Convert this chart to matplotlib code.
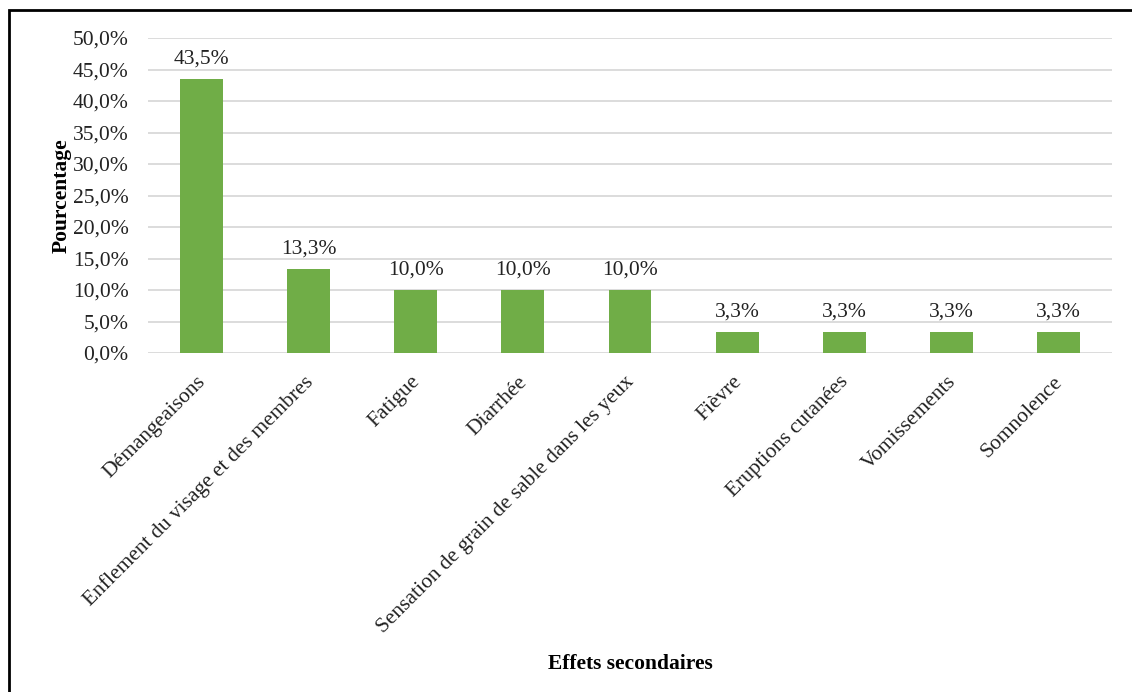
import matplotlib
matplotlib.use("Agg")
import matplotlib.pyplot as plt
from matplotlib.ticker import FuncFormatter, MultipleLocator
from matplotlib.patches import Rectangle
from matplotlib.transforms import ScaledTranslation

categories = ["Démangeaisons", "Enflement du visage et des membres", "Fatigue",
              "Diarrhée", "Sensation de grain de sable dans les yeux", "Fièvre",
              "Eruptions cutanées", "Vomissements", "Somnolence"]
values = [43.5, 13.3, 10.0, 10.0, 10.0, 3.3, 3.3, 3.3, 3.3]
value_labels = ["43,5%", "13,3%", "10,0%", "10,0%", "10,0%", "3,3%", "3,3%", "3,3%", "3,3%"]

plt.rcParams['font.family'] = ['Liberation Serif', 'DejaVu Serif']

FS = 15.5

fig = plt.figure(figsize=(11.32, 6.92), dpi=100)
ax = fig.add_axes([148/1132, 1-353/692, (1112-148)/1132, (353-38)/692])

x = list(range(len(categories)))
bars = ax.bar(x, values, width=0.4, color="#70AD47", zorder=3)
for b, lab in zip(bars, value_labels):
    ax.text(b.get_x() + b.get_width()/2, b.get_height() + 1.7, lab,
            ha="center", va="bottom", fontsize=FS, color="#222222")

ax.set_xlim(-0.5, len(categories) - 0.5)
ax.set_ylim(0, 50)
ax.yaxis.set_major_locator(MultipleLocator(5))
ax.yaxis.set_major_formatter(FuncFormatter(lambda v, p: f"{v:.1f}%".replace(".", ",")))
ax.grid(axis="y", color="#D9D9D9", linewidth=1.3, zorder=0)
for s in ax.spines.values():
    s.set_visible(False)
ax.tick_params(axis="both", length=0, labelsize=FS, colors="#222222")
ax.tick_params(axis="y", pad=14)
ax.set_xticks(x)
ax.set_xticklabels(categories, rotation=45, ha="right", rotation_mode="anchor")
ax.tick_params(axis="x", pad=14)
shift = ScaledTranslation(-5/100, 0/100, fig.dpi_scale_trans)
for t in ax.get_xticklabels():
    t.set_transform(t.get_transform() + shift)
ax.set_ylabel("Pourcentage", fontsize=FS, fontweight="bold", labelpad=1)
ax.set_xlabel("Effets secondaires", fontsize=FS, fontweight="bold")
ax.xaxis.set_label_coords(0.5, 1 - (654 - 38) / (353 - 38))

fig.patches.append(Rectangle((9/1132, -0.05), 1.2, (692-10)/692 + 0.05,
                             transform=fig.transFigure, fill=False,
                             edgecolor="black", linewidth=2, figure=fig))

fig.savefig("out.png", dpi=100)
